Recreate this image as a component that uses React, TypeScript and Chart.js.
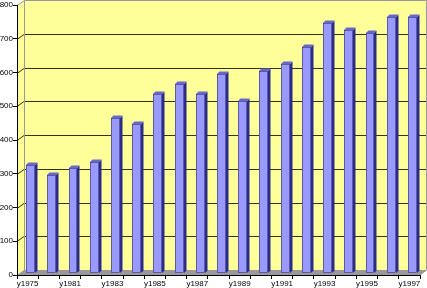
import React, { useEffect, useRef } from 'react';
import { Chart, registerables } from 'chart.js';

Chart.register(...registerables);

const categories = [
  'y1975', 'y1980', 'y1981', 'y1982', 'y1983', 'y1984', 'y1985', 'y1986', 'y1987', 'y1988',
  'y1989', 'y1990', 'y1991', 'y1992', 'y1993', 'y1994', 'y1995', 'y1996', 'y1997',
];
const values = [320, 290, 310, 330, 460, 440, 530, 560, 530, 590, 510, 600, 620, 670, 740, 720, 710, 760, 760];
const Y_MIN = 0;
const Y_MAX = 800;
const Y_STEP = 100;

const WALL = '#FFFF99';
const FLOOR = '#999999';
const GRID = '#333300';
const EDGE = '#999999';
const FRONT = '#9999FF';
const TOP = '#6666CC';
const SIDE = '#2B2B8C';

const DX = 7;
const DY = -5;
const BAR_SX = 3;
const BAR_SY = -2;
const BAR_DX = 2.5;
const BAR_DY = -2.5;

const threeD = {
  id: 'threeD',
  beforeDraw(chart: any) {
    const { ctx, chartArea, scales } = chart;
    const { left: L, right: R, top: T, bottom: B } = chartArea;
    const y = scales.y;
    ctx.save();
    ctx.fillStyle = '#ffffff';
    ctx.fillRect(0, 0, chart.width, chart.height);
    // side wall
    ctx.fillStyle = WALL;
    ctx.beginPath();
    ctx.moveTo(L, B);
    ctx.lineTo(L, T);
    ctx.lineTo(L + DX, T + DY);
    ctx.lineTo(L + DX, B + DY);
    ctx.closePath();
    ctx.fill();
    // back wall
    ctx.fillRect(L + DX, T + DY, R - L, B - T);
    // floor
    ctx.fillStyle = FLOOR;
    ctx.beginPath();
    ctx.moveTo(L, B);
    ctx.lineTo(R, B);
    ctx.lineTo(R + DX, B + DY);
    ctx.lineTo(L + DX, B + DY);
    ctx.closePath();
    ctx.fill();
    // grid lines
    ctx.lineWidth = 1;
    for (let v = Y_MIN + Y_STEP; v < Y_MAX; v += Y_STEP) {
      const py = Math.round(y.getPixelForValue(v)) + 0.5;
      ctx.strokeStyle = GRID;
      ctx.beginPath();
      ctx.moveTo(L + DX, py + DY);
      ctx.lineTo(R + DX, py + DY);
      ctx.stroke();
      ctx.beginPath();
      ctx.moveTo(L, py);
      ctx.lineTo(L + DX, py + DY);
      ctx.stroke();
    }
    // wall edges
    ctx.strokeStyle = EDGE;
    const topY = Math.round(y.getPixelForValue(Y_MAX)) + 0.5;
    ctx.beginPath();
    ctx.moveTo(L, topY);
    ctx.lineTo(L + DX + 0.5, topY + DY);
    ctx.lineTo(R + DX - 0.5, topY + DY);
    ctx.lineTo(R + DX - 0.5, B + DY);
    ctx.lineTo(R, B);
    ctx.stroke();
    ctx.beginPath();
    ctx.moveTo(L + DX + 0.5, topY + DY);
    ctx.lineTo(L + DX + 0.5, B + DY);
    ctx.stroke();
    ctx.restore();
  },
  afterDatasetsDraw(chart: any) {
    const { ctx } = chart;
    const meta = chart.getDatasetMeta(0);
    ctx.save();
    meta.data.forEach((bar: any) => {
      const { x, y, base, width } = bar.getProps(['x', 'y', 'base', 'width'], true);
      const xl = Math.round(x - width / 2 + BAR_SX);
      const xr = Math.round(x + width / 2 + BAR_SX);
      const yt = Math.round(y + BAR_SY);
      const yb = Math.round(base + BAR_SY);
      // side
      ctx.fillStyle = SIDE;
      ctx.beginPath();
      ctx.moveTo(xr, yt);
      ctx.lineTo(xr + BAR_DX, yt + BAR_DY);
      ctx.lineTo(xr + BAR_DX, yb + BAR_DY);
      ctx.lineTo(xr, yb);
      ctx.closePath();
      ctx.fill();
      // top
      ctx.fillStyle = TOP;
      ctx.beginPath();
      ctx.moveTo(xl, yt);
      ctx.lineTo(xl + BAR_DX, yt + BAR_DY);
      ctx.lineTo(xr + BAR_DX, yt + BAR_DY);
      ctx.lineTo(xr, yt);
      ctx.closePath();
      ctx.fill();
      // front
      ctx.fillStyle = FRONT;
      ctx.fillRect(xl, yt, xr - xl, yb - yt);
      ctx.strokeStyle = '#333366';
      ctx.lineWidth = 0.6;
      ctx.strokeRect(xl + 0.5, yt + 0.5, xr - xl - 1, yb - yt - 1);
    });
    ctx.restore();
  },
};

export default function App() {
  const ref = useRef<HTMLCanvasElement | null>(null);
  useEffect(() => {
    document.body.style.margin = '0';
    document.body.style.overflow = 'hidden';
    const canvas = ref.current;
    if (!canvas) return;
    const font = { family: '"Liberation Sans", Arial, sans-serif', size: 8 };
    const chart = new Chart(canvas, {
      type: 'bar',
      data: {
        labels: categories,
        datasets: [
          {
            label: 'Series',
            data: values,
            backgroundColor: 'rgba(0,0,0,0)',
            borderWidth: 0,
            categoryPercentage: 1,
            barPercentage: 0.42,
          },
        ],
      },
      options: {
        responsive: false,
        animation: false,
        devicePixelRatio: 1,
        layout: { padding: { top: 5, right: 7, left: 0, bottom: 0 } },
        plugins: { legend: { display: false }, tooltip: { enabled: false }, title: { display: false } },
        scales: {
          x: {
            offset: true,
            grid: { display: true, drawOnChartArea: false, drawTicks: true, tickLength: 4, color: '#000', offset: true },
            border: { display: true, color: '#000' },
            ticks: {
              autoSkip: false,
              maxRotation: 0,
              minRotation: 0,
              padding: 0,
              font,
              color: '#000',
              callback: (_v: any, i: number) => (i % 2 === 0 ? categories[i] : ''),
            },
            afterFit: (s: any) => {
              s.height = 13;
            },
          },
          y: {
            min: Y_MIN,
            max: Y_MAX,
            ticks: { stepSize: Y_STEP, padding: 0, font, color: '#000' },
            grid: { drawOnChartArea: false, tickLength: 4, color: '#000' },
            border: { display: true, color: '#000' },
            afterFit: (s: any) => {
              s.width = 17;
            },
          },
        },
      },
      plugins: [threeD],
    });
    return () => chart.destroy();
  }, []);
  return <canvas ref={ref} width={427} height={288} style={{ display: 'block' }} />;
}
